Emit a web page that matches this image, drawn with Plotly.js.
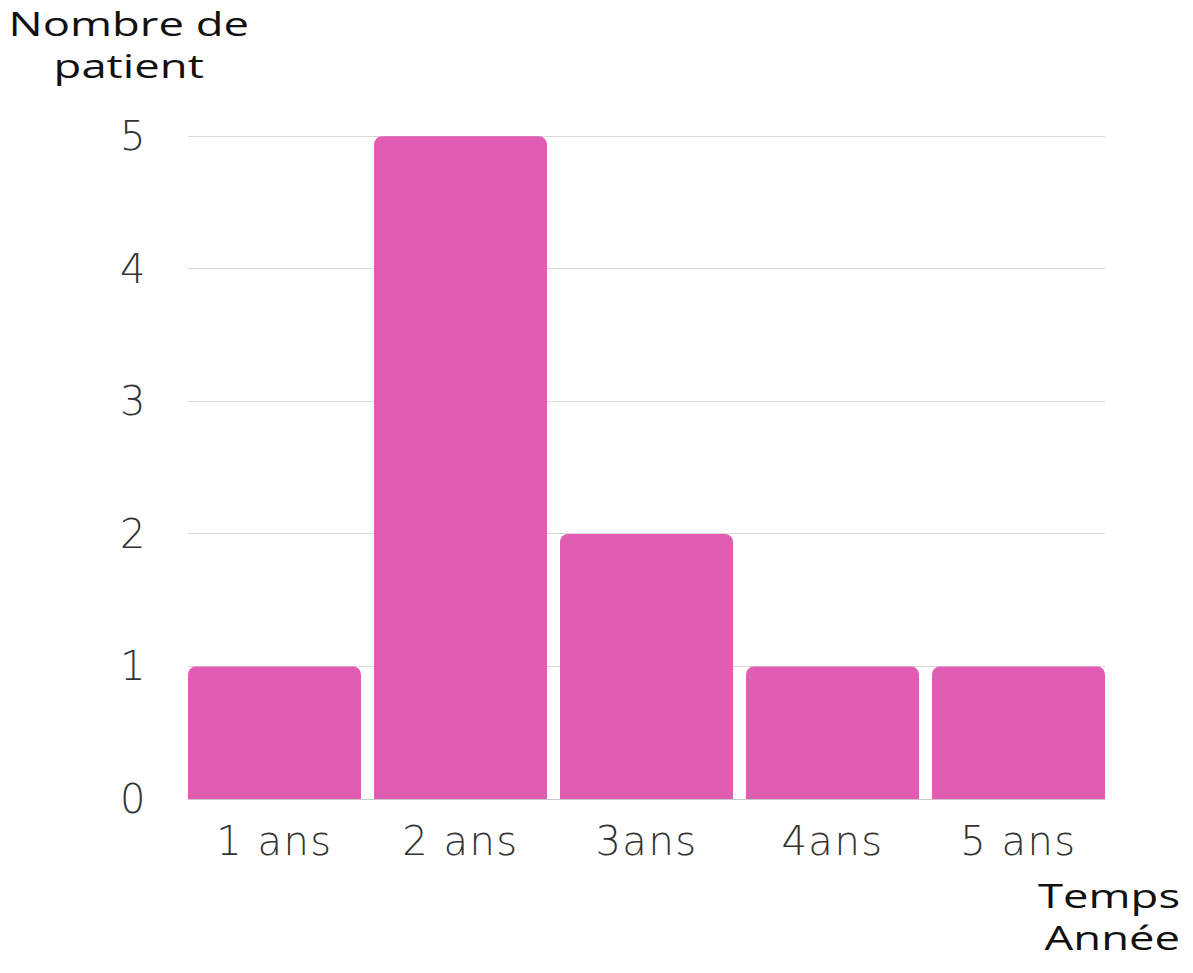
<!DOCTYPE html>
<html>
<head>
<meta charset="utf-8">
<script src="https://cdn.plot.ly/plotly-3.0.1.min.js"></script>
<style>
  body { margin: 0; background: #fff; }
  #chart { width: 1193px; height: 973px; }
  /* the reference lettering is wide: stretch the two titles, space the tick labels */
  #chart text.annotation-text {
    transform-box: fill-box;
    transform-origin: center;
    transform: scaleX(1.42);
  }
  #chart .xtick text, #chart .ytick text { letter-spacing: 1.5px; }
</style>
</head>
<body>
<div id="chart"></div>
<script>
var categories = ['1 ans', '2 ans', '3ans', '4ans', '5 ans'];
var patients = [1, 5, 2, 1, 1];
var yTicks = [0, 1, 2, 3, 4, 5];

var trace1 = {
  x: categories,
  y: patients,
  type: 'bar',
  marker: { color: '#E15CB3', cornerradius: 8 },
  cliponaxis: false,
  hoverinfo: 'x+y'
};

var tickFont = { family: 'DejaVu Sans', size: 40, color: '#333333', weight: 200 };
var titleFont = { family: 'Open Sans', size: 32, color: '#111111' };

var layout = {
  width: 1193,
  height: 973,
  margin: { l: 188, r: 88, t: 135, b: 174 },
  paper_bgcolor: '#ffffff',
  plot_bgcolor: '#ffffff',
  showlegend: false,
  bargap: 0.07,
  xaxis: {
    type: 'category',
    range: [-0.465, 4.465],
    showgrid: false,
    showline: true,
    linecolor: '#c8c8c8',
    linewidth: 1,
    ticks: '',
    tickfont: tickFont,
    ticklabelstandoff: 7
  },
  yaxis: {
    // a hair above 5 so the top gridline is still drawn
    range: [0, 5.01],
    tickvals: yTicks,
    showgrid: true,
    gridcolor: '#d9d9d9',
    gridwidth: 1,
    zeroline: false,
    ticks: '',
    tickfont: tickFont,
    ticklabelstandoff: 40
  },
  annotations: [
    {
      text: 'Nombre de<br>patient',
      xref: 'paper', yref: 'paper',
      x: -0.065, y: 1.0,
      xanchor: 'center', yanchor: 'bottom',
      yshift: 46,
      showarrow: false,
      align: 'center',
      font: titleFont
    },
    {
      text: 'Temps<br>Année',
      xref: 'paper', yref: 'paper',
      x: 1.0, y: 0,
      xanchor: 'right', yanchor: 'top',
      xshift: 56, yshift: -73,
      showarrow: false,
      align: 'right',
      font: titleFont
    }
  ]
};

Plotly.newPlot('chart', [trace1], layout, { displayModeBar: false });
</script>
</body>
</html>
